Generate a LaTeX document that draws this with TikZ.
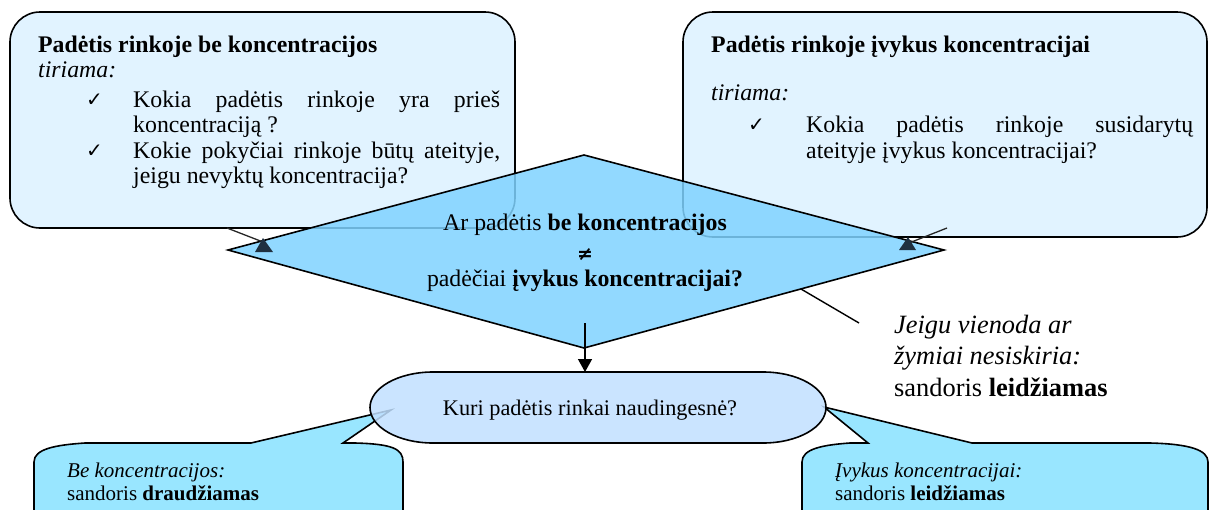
\documentclass[tikz,border=0pt]{standalone}
\usepackage{fontspec}
\setmainfont{Liberation Serif}[BoldFont={Liberation Serif Bold}, ItalicFont={Liberation Serif Italic}, BoldItalicFont={Liberation Serif Bold Italic}]
\newfontfamily\dejavu{DejaVu Sans}
\usetikzlibrary{arrows.meta}
\definecolor{boxfill}{RGB}{225,243,255}
\definecolor{diafill}{RGB}{128,211,255}
\definecolor{ellfill}{RGB}{193,224,255}
\definecolor{callfill}{RGB}{153,230,255}
\definecolor{tipcol}{RGB}{31,48,64}
\tikzset{
  bigbox/.style={draw=black, line width=1.6pt, fill=boxfill, rounded corners=30pt},
  main/.style={inner sep=0pt, anchor=base west, font=\fontsize{23.8}{26}\selectfont},
  mainc/.style={inner sep=0pt, anchor=base, font=\fontsize{23.8}{26}\selectfont},
  small/.style={inner sep=0pt, anchor=base west, font=\fontsize{21}{24}\selectfont},
  big/.style={inner sep=0pt, anchor=base west, font=\fontsize{26.4}{30}\selectfont},
  chk/.style={inner sep=0pt, anchor=base west, font=\dejavu\fontsize{20}{24}\selectfont},
  ptr/.style={draw=black!85, line width=1.3pt},
  tip/.style={fill=tipcol},
  shapeline/.style={draw=black, line width=1.6pt}
}
\begin{document}
\begin{tikzpicture}[x=1pt, y=-1pt]
\useasboundingbox (0,0) rectangle (1210,509);
\clip (0,0) rectangle (1210,509);
\fill[white] (0,0) rectangle (1210,509);

% top boxes
\path[bigbox] (10,12) rectangle (515,228);
\path[bigbox] (683,12) rectangle (1207,237);

% left box text
\node[main, font=\bfseries\fontsize{23.8}{26}\selectfont] (lh) at (38,52) {Padėtis rinkoje be koncentracijos};
\node[main, font=\itshape\fontsize{23.8}{26}\selectfont] (lt) at (38,77) {tiriama:};
\node[chk] (lc1) at (86,106) {✓};
\node[main] (l1) at (133,107) {\makebox[367pt][s]{Kokia padėtis rinkoje yra prieš}};
\node[main] (l2) at (133,132) {koncentraciją ?};
\node[chk] (lc2) at (86,157) {✓};
\node[main] (l3) at (133,158) {\makebox[367pt][s]{Kokie pokyčiai rinkoje būtų ateityje,}};
\node[main] (l4) at (133,183) {jeigu nevyktų koncentracija?};

% right box text
\node[main, font=\bfseries\fontsize{23.8}{26}\selectfont] (rh) at (711,52) {Padėtis rinkoje įvykus koncentracijai};
\node[main, font=\itshape\fontsize{23.8}{26}\selectfont] (rt) at (711,100) {tiriama:};
\node[chk] (rc1) at (748,131) {✓};
\node[main] (r1) at (806,132) {\makebox[387pt][s]{Kokia padėtis rinkoje susidarytų}};
\node[main] (r2) at (806,158) {ateityje įvykus koncentracijai?};

% diamond
\coordinate (dT) at (584,155);
\coordinate (dR) at (944,250);
\coordinate (dB) at (584,348);
\coordinate (dL) at (228,250);
\path[shapeline, fill=diafill, fill opacity=0.85] (dT) -- (dR) -- (dB) -- (dL) -- cycle;
\node[mainc] (d1) at (585,230) {Ar padėtis \textbf{be koncentracijos}};
\node[mainc, font=\dejavu\bfseries\fontsize{19}{24}\selectfont] (d2) at (585,260) {≠};
\node[mainc] (d3) at (585,286) {padėčiai \textbf{įvykus koncentracijai?}};

% pointers from top boxes
\coordinate (lp) at (227,228);
\coordinate (lq) at (263,242);
\draw[ptr] (lp) -- (lq);
\path[tip] (263,238) -- (273,252) -- (255,252) -- cycle;
\coordinate (rp) at (947,228);
\coordinate (rq) at (909,243);
\draw[ptr] (rp) -- (rq);
\path[tip] (908,237) -- (916,250) -- (899,250) -- cycle;

% line to right text
\coordinate (dm) at (801,289);
\coordinate (jt) at (859,323);
\draw[line width=1.4pt] (dm) -- (jt);
\node[big, font=\itshape\fontsize{26.4}{30}\selectfont] (j1) at (894,333) {Jeigu vienoda ar};
\node[big, font=\itshape\fontsize{26.4}{30}\selectfont] (j2) at (894,364) {žymiai nesiskiria:};
\node[big] (j3) at (894,396) {sandoris \textbf{leidžiamas}};

% bottom callouts
\path[shapeline, fill=callfill] (34,520) -- (34,462) .. controls (34,449) and (55,445) .. (85,443)
  -- (251,443) -- (391,410) -- (343,443) -- (355,443) .. controls (393,444) and (403,449) .. (403,462) -- (403,520);
\path[shapeline, fill=callfill] (802,520) -- (802,462) .. controls (802,449) and (822,445) .. (850,443)
  -- (868,443) -- (824,407) -- (972,443) -- (1150,443) .. controls (1190,444) and (1208,450) .. (1208,462) -- (1208,520);
\node[small, font=\itshape\fontsize{21}{24}\selectfont] (b1) at (67,477) {Be koncentracijos:};
\node[small] (b2) at (67,500) {sandoris \textbf{draudžiamas}};
\node[small, font=\itshape\fontsize{21}{24}\selectfont] (c1) at (835,477) {Įvykus koncentracijai:};
\node[small] (c2) at (835,500) {sandoris \textbf{leidžiamas}};

% ellipse-ended box
\coordinate (eN) at (585,372);
\path[shapeline, fill=ellfill, fill opacity=0.85] (433,372) -- (763,372)
  .. controls (797.8,372) and (826,387.9) .. (826,407.5)
  .. controls (826,427.1) and (797.8,443) .. (763,443)
  -- (433,443)
  .. controls (398.2,443) and (370,427.1) .. (370,407.5)
  .. controls (370,387.9) and (398.2,372) .. (433,372) -- cycle;
\node[mainc, font=\fontsize{22.3}{25}\selectfont] (e1) at (590,415) {Kuri padėtis rinkai naudingesnė?};

% arrow
\coordinate (as) at (585,323);
\draw[line width=1.4pt, -{Triangle[length=13pt, width=14pt]}] (as) -- (eN);
\end{tikzpicture}
\end{document}
